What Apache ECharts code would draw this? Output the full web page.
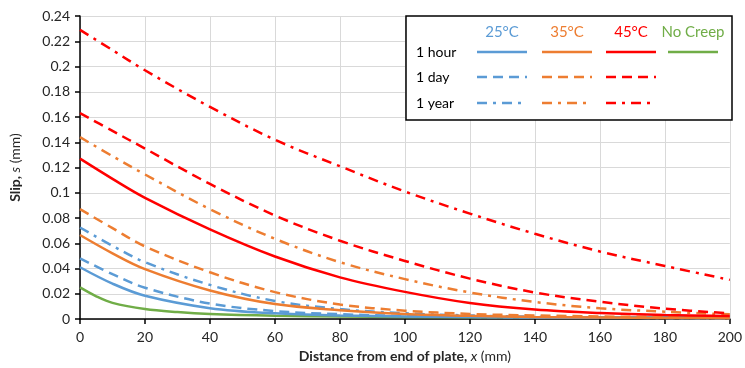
<!DOCTYPE html>
<html>
<head>
<meta charset="utf-8">
<script src="https://cdn.jsdelivr.net/npm/echarts@6/dist/echarts.min.js"></script>
<style>
  html, body { margin: 0; padding: 0; background: #fff; }
  #main { width: 745px; height: 368px; }
</style>
</head>
<body>
<div id="main"></div>
<script>
// distance from end of plate (mm)
var xs = [0, 10, 20, 40, 60, 80, 100, 120, 140, 160, 180, 200];

// slip (mm)
var t25Hour = [0.041, 0.028, 0.0184, 0.0086, 0.0045, 0.0028, 0.002, 0.0015, 0.0012, 0.001, 0.0009, 0.0008];
var t25Day  = [0.048, 0.0355, 0.0248, 0.0122, 0.0063, 0.0038, 0.0024, 0.0017, 0.0013, 0.0011, 0.0009, 0.0008];
var t25Year = [0.0725, 0.058, 0.045, 0.027, 0.0143, 0.0079, 0.0045, 0.0028, 0.0018, 0.0012, 0.0008, 0.0006];
var t35Hour = [0.0665, 0.052, 0.0395, 0.0226, 0.0118, 0.007, 0.004, 0.0025, 0.0016, 0.0011, 0.0008, 0.0006];
var t35Day  = [0.087, 0.072, 0.0575, 0.037, 0.0213, 0.0115, 0.0066, 0.004, 0.0028, 0.002, 0.0016, 0.0014];
var t35Year = [0.144, 0.129, 0.1145, 0.087, 0.0635, 0.045, 0.0316, 0.021, 0.0135, 0.0085, 0.0058, 0.0037];
var t45Hour = [0.127, 0.111, 0.096, 0.071, 0.0495, 0.033, 0.0215, 0.0127, 0.0075, 0.0047, 0.0031, 0.0024];
var t45Day  = [0.163, 0.149, 0.135, 0.107, 0.082, 0.062, 0.046, 0.032, 0.021, 0.0137, 0.0082, 0.0045];
var t45Year = [0.229, 0.213, 0.197, 0.168, 0.142, 0.121, 0.101, 0.0835, 0.0675, 0.0535, 0.042, 0.031];

// no creep drops fast near the end, so it has its own x points
var xsNoCreep = [0, 5, 10, 20, 30, 40, 60, 80, 100, 140, 200];
var noCreep   = [0.025, 0.018, 0.0128, 0.0079, 0.0055, 0.004, 0.0026, 0.0019, 0.0016, 0.0013, 0.0012];

var yTicks = [0, 0.02, 0.04, 0.06, 0.08, 0.1, 0.12, 0.14, 0.16, 0.18, 0.2, 0.22, 0.24];
var xTicks = [0, 20, 40, 60, 80, 100, 120, 140, 160, 180, 200];

var temps = ['25°C', '35°C', '45°C', 'No Creep'];
var durations = ['1 hour', '1 day', '1 year'];
var colors = ['#5B9BD5', '#ED7D31', '#FF0000', '#70AD47'];
var dashes = ['solid', [10, 6], [10, 6, 3, 6]];

var FONT = 'Lato, "Open Sans", sans-serif';

function pairs(x, y) {
    return x.map(function (v, i) { return [v, y[i]]; });
}

var table = [
    [t25Hour, t25Day, t25Year],
    [t35Hour, t35Day, t35Year],
    [t45Hour, t45Day, t45Year]
];

var series = [];
series.push({
    name: temps[3] + ' ' + durations[0],
    type: 'line',
    smooth: 0.35,
    symbol: 'none',
    data: pairs(xsNoCreep, noCreep),
    lineStyle: {color: colors[3], width: 2.5}
});
table.forEach(function (row, ti) {
    row.forEach(function (vals, di) {
        series.push({
            name: temps[ti] + ' ' + durations[di],
            type: 'line',
            smooth: 0.35,
            symbol: 'none',
            data: pairs(xs, vals),
            lineStyle: {color: colors[ti], width: 2.5, type: dashes[di]}
        });
    });
});

// legend table drawn as graphic
var box = {x: 406, y: 16, w: 326, h: 104};
var colCenters = [502, 567, 631, 693];
var rowY = [52, 77, 103];
var graphic = [{
    type: 'rect', z: 100,
    shape: {x: box.x, y: box.y, width: box.w, height: box.h},
    style: {fill: '#fff', stroke: '#000', lineWidth: 1.5}
}];
temps.forEach(function (t, i) {
    graphic.push({
        type: 'text', z: 101, x: colCenters[i], y: 32,
        style: {text: t, fill: colors[i], font: '15px ' + FONT, textAlign: 'center', textVerticalAlign: 'middle'}
    });
});
durations.forEach(function (d, j) {
    graphic.push({
        type: 'text', z: 101, x: 416, y: rowY[j],
        style: {text: d, fill: '#000', font: '14px ' + FONT, textAlign: 'left', textVerticalAlign: 'middle'}
    });
    colCenters.forEach(function (cx, i) {
        if (i === 3 && j > 0) return;
        graphic.push({
            type: 'line', z: 101,
            shape: {x1: cx - 25, y1: rowY[j], x2: cx + 25, y2: rowY[j]},
            style: {stroke: colors[i], lineWidth: 2.5, lineDash: j === 0 ? null : dashes[j]}
        });
    });
});

var chart = echarts.init(document.getElementById('main'));
chart.setOption({
    animation: false,
    backgroundColor: '#fff',
    textStyle: {fontFamily: FONT},
    grid: {left: 77, right: 12, top: 16, bottom: 49},
    xAxis: {
        type: 'value',
        min: xTicks[0], max: xTicks[xTicks.length - 1], interval: 20,
        name: '{b|Distance from end of plate, }{i|x}{r| (mm)}',
        nameLocation: 'middle', nameGap: 30,
        nameTextStyle: {
            rich: {
                b: {fontFamily: FONT, fontSize: 14, fontWeight: 'bold', color: '#262626'},
                i: {fontFamily: FONT, fontSize: 14, fontStyle: 'italic', color: '#262626'},
                r: {fontFamily: FONT, fontSize: 14, color: '#262626'}
            }
        },
        axisLine: {lineStyle: {color: '#000', width: 1.5}},
        axisTick: {show: true, length: 5, lineStyle: {color: '#000', width: 1.5}},
        axisLabel: {color: '#262626', fontSize: 14, margin: 11, fontFamily: FONT},
        splitLine: {show: true, lineStyle: {color: '#d9d9d9', width: 1}}
    },
    yAxis: {
        type: 'value',
        min: yTicks[0], max: yTicks[yTicks.length - 1], interval: 0.02,
        name: '{b|Slip, }{i|s}{r| (mm)}',
        nameLocation: 'middle', nameGap: 58, nameRotate: 90,
        nameTextStyle: {
            rich: {
                b: {fontFamily: FONT, fontSize: 14, fontWeight: 'bold', color: '#262626'},
                i: {fontFamily: FONT, fontSize: 14, fontStyle: 'italic', color: '#262626'},
                r: {fontFamily: FONT, fontSize: 14, color: '#262626'}
            }
        },
        axisLine: {show: true, lineStyle: {color: '#000', width: 1.5}},
        axisTick: {show: true, length: 5, lineStyle: {color: '#000', width: 1.5}},
        axisLabel: {
            color: '#262626', fontSize: 14, margin: 10, fontFamily: FONT,
            formatter: function (v) { return String(+v.toFixed(2)); }
        },
        splitLine: {show: true, lineStyle: {color: '#d9d9d9', width: 1}}
    },
    legend: {show: false},
    series: series,
    graphic: graphic
});
</script>
</body>
</html>
